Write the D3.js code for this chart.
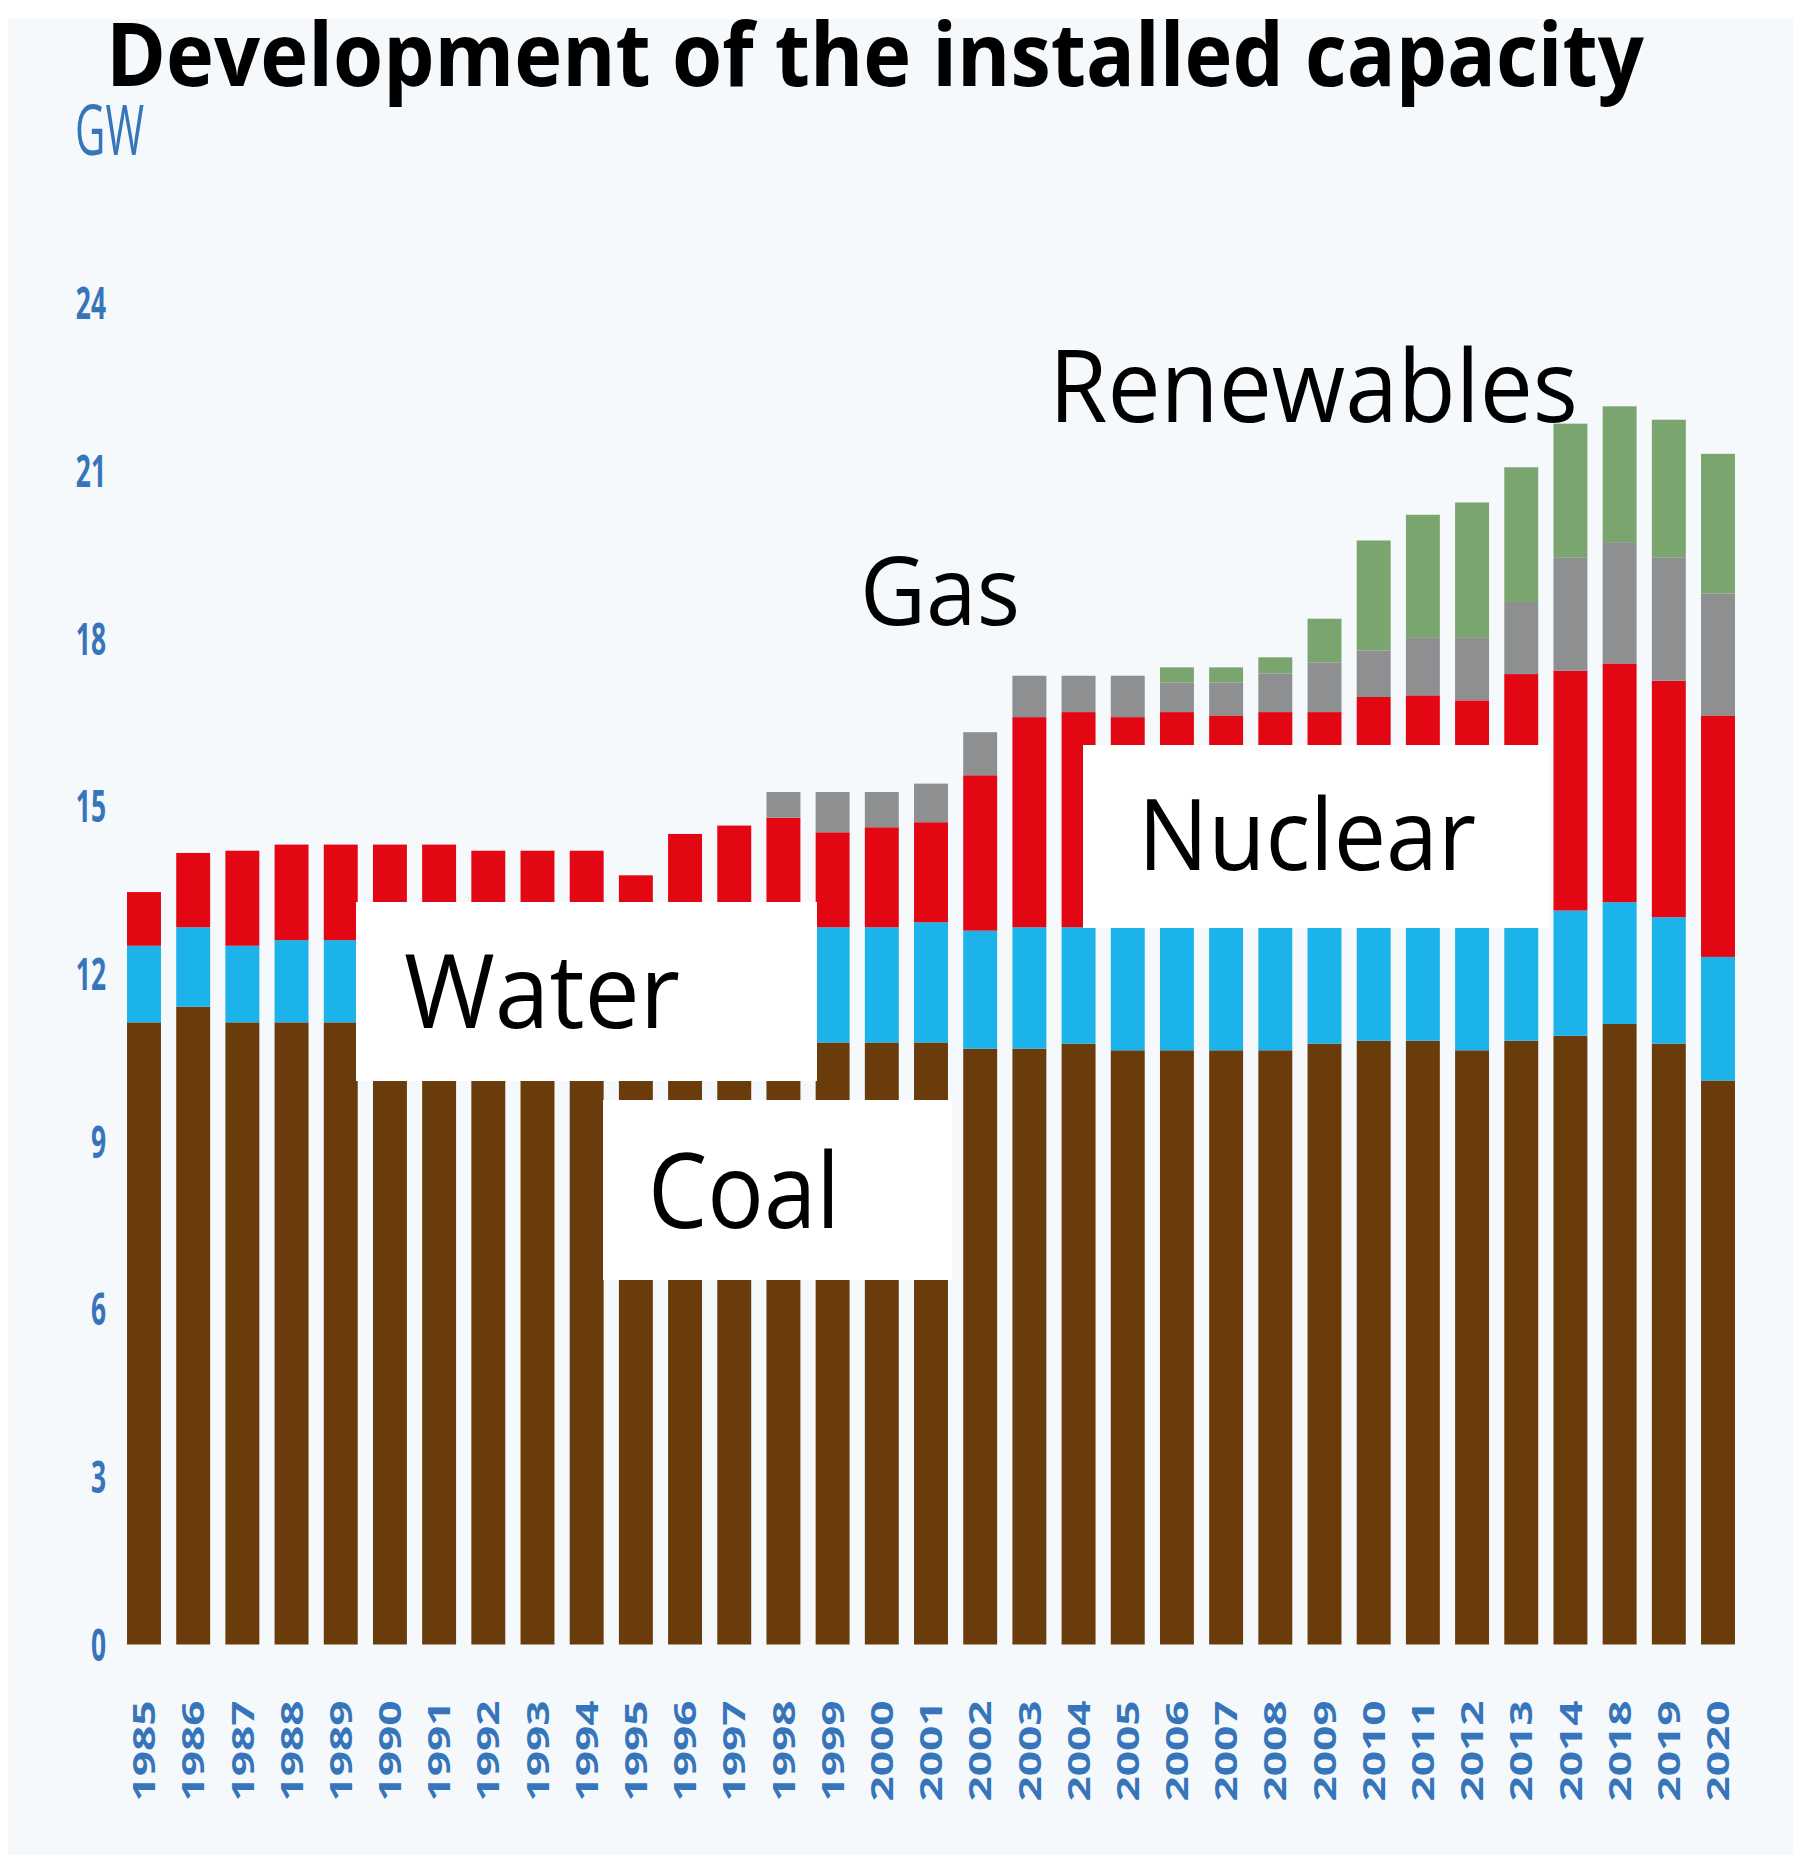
<!DOCTYPE html>
<html lang="en">
<head>
<meta charset="UTF-8">
<title>Development of the installed capacity</title>
<style>
  body { margin: 0; background: #fff; }
  svg text { font-family: "Open Sans", "DejaVu Sans", sans-serif; }
</style>
<script src="https://cdn.jsdelivr.net/npm/d3@7"></script>
</head>
<body>
<svg id="chart" width="1793" height="1855"></svg>
<script>
// years on the x axis (note the jump 2014 -> 2018)
const years = ["1985","1986","1987","1988","1989","1990","1991","1992","1993","1994",
  "1995","1996","1997","1998","1999","2000","2001","2002","2003","2004","2005","2006",
  "2007","2008","2009","2010","2011","2012","2013","2014","2018","2019","2020"];

// installed capacity per source, GW
const coal = [11.13, 11.41, 11.13, 11.13, 11.13, 11.13, 11.13, 11.13, 11.13, 11.13,
  10.8, 10.8, 10.8, 10.8, 10.77, 10.77, 10.77, 10.66, 10.66, 10.75, 10.63, 10.63,
  10.63, 10.63, 10.75, 10.8, 10.8, 10.63, 10.8, 10.89, 11.1, 10.75, 10.09];
const water = [1.37, 1.42, 1.37, 1.47, 1.47, 1.47, 1.47, 1.47, 1.47, 1.47,
  2.0, 2.0, 2.0, 2.0, 2.06, 2.06, 2.15, 2.11, 2.17, 2.08, 2.21, 2.21,
  2.21, 2.21, 2.09, 2.04, 2.04, 2.21, 2.04, 2.24, 2.18, 2.26, 2.21];
const nuclear = [0.96, 1.33, 1.7, 1.71, 1.71, 1.71, 1.71, 1.6, 1.6, 1.6,
  0.96, 1.7, 1.85, 1.99, 1.7, 1.79, 1.79, 2.78, 3.76, 3.85, 3.75, 3.84,
  3.78, 3.84, 3.84, 4.11, 4.14, 4.05, 4.52, 4.29, 4.27, 4.23, 4.32];
const gas = [0, 0, 0, 0, 0, 0, 0, 0, 0, 0,
  0, 0, 0, 0.46, 0.72, 0.63, 0.69, 0.77, 0.74, 0.65, 0.74, 0.53,
  0.59, 0.69, 0.89, 0.83, 1.04, 1.13, 1.29, 2.03, 2.17, 2.21, 2.18];
const renewables = [0, 0, 0, 0, 0, 0, 0, 0, 0, 0,
  0, 0, 0, 0, 0, 0, 0, 0, 0, 0, 0, 0.27,
  0.27, 0.29, 0.78, 1.97, 2.19, 2.41, 2.41, 2.39, 2.43, 2.46, 2.5];

const yTicks = [0, 3, 6, 9, 12, 15, 18, 21, 24];

const sources = ["coal", "water", "nuclear", "gas", "renewables"];
const colors = {
  coal: "#6b3c0b",
  water: "#1bb3e9",
  nuclear: "#e30613",
  gas: "#8d8f91",
  renewables: "#7ba56f"
};

const rows = years.map((y, i) => ({
  year: y, coal: coal[i], water: water[i], nuclear: nuclear[i],
  gas: gas[i], renewables: renewables[i]
}));

const svg = d3.select("#chart");
const blue = "#3675ba";

// light panel behind the chart
svg.append("rect")
  .attr("x", 8).attr("y", 19)
  .attr("width", 1785).attr("height", 1836)
  .attr("fill", "#f5f9fc");

const x = d3.scaleBand()
  .domain(years)
  .range([119.4, 1742.6])
  .paddingInner(0.31)
  .paddingOuter(0.155);

const y = d3.scaleLinear()
  .domain([0, 24])
  .range([1644.5, 302.9]);

const stacked = d3.stack().keys(sources)(rows);

svg.append("g")
  .selectAll("g")
  .data(stacked)
  .join("g")
    .attr("fill", d => colors[d.key])
  .selectAll("rect")
  .data(d => d.filter(p => p[1] - p[0] > 0))
  .join("rect")
    .attr("x", d => x(d.data.year))
    .attr("width", x.bandwidth())
    .attr("y", d => y(d[1]))
    .attr("height", d => y(d[0]) - y(d[1]));

// y axis: condensed blue numbers, no line
const yAxis = svg.append("g")
  .attr("transform", "translate(106,0)")
  .call(d3.axisLeft(y).tickValues(yTicks).tickSize(0).tickFormat(d3.format("d")));
yAxis.select(".domain").remove();
yAxis.selectAll("text")
  .attr("x", 0)
  .attr("dy", "0.36em")
  .attr("transform", "scale(0.6,1)")
  .style("font-size", "44px")
  .style("font-weight", "bold")
  .style("fill", blue);

// x axis: rotated year labels
const xAxis = svg.append("g")
  .attr("transform", `translate(0,${y(0)})`)
  .call(d3.axisBottom(x).tickSize(0));
xAxis.select(".domain").remove();
xAxis.selectAll("text")
  .attr("transform", "rotate(-90)")
  .attr("x", -56)
  .attr("y", 0)
  .attr("dy", "0.36em")
  .attr("text-anchor", "end")
  .attr("textLength", 101)
  .attr("lengthAdjust", "spacingAndGlyphs")
  .style("font-size", "31px")
  .style("font-weight", "bold")
  .style("fill", blue);

// unit
svg.append("text")
  .attr("x", 75).attr("y", 155)
  .attr("textLength", 69).attr("lengthAdjust", "spacingAndGlyphs")
  .style("font-size", "70px")
  .style("fill", blue)
  .text("GW");

// title
svg.append("text")
  .attr("x", 106).attr("y", 86)
  .attr("textLength", 1538).attr("lengthAdjust", "spacingAndGlyphs")
  .style("font-size", "87px")
  .style("font-weight", "bold")
  .style("fill", "#000")
  .text("Development of the installed capacity");

// white label boxes pasted over the bars
const boxes = [
  { x0: 356, x1: 817, y0: 902, y1: 1081 },
  { x0: 603, x1: 952, y0: 1100, y1: 1280 },
  { x0: 1083, x1: 1549, y0: 745, y1: 928 }
];
svg.append("g")
  .selectAll("rect")
  .data(boxes)
  .join("rect")
    .attr("x", d => d.x0).attr("y", d => d.y0)
    .attr("width", d => d.x1 - d.x0).attr("height", d => d.y1 - d.y0)
    .attr("fill", "#fff");

const labels = [
  { t: "Renewables", x: 1049, y: 422, w: 529, s: 100 },
  { t: "Gas", x: 860, y: 625, w: 160, s: 96 },
  { t: "Nuclear", x: 1138, y: 870, w: 338, s: 98 },
  { t: "Water", x: 404, y: 1028, w: 276, s: 102 },
  { t: "Coal", x: 648, y: 1228, w: 192, s: 105 }
];
svg.append("g")
  .selectAll("text")
  .data(labels)
  .join("text")
    .attr("x", d => d.x).attr("y", d => d.y)
    .attr("textLength", d => d.w)
    .attr("lengthAdjust", "spacingAndGlyphs")
    .style("font-size", d => d.s + "px")
    .style("fill", "#000")
    .text(d => d.t);
</script>
</body>
</html>
